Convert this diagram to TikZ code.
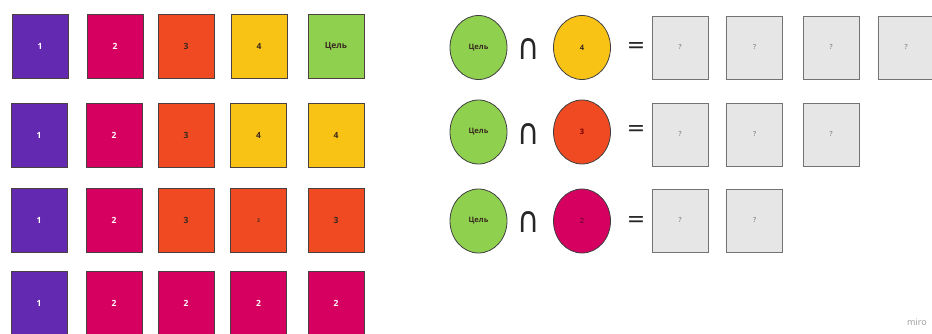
\documentclass[tikz,border=0pt]{standalone}
\usepackage{fontspec}
\setmainfont{Open Sans}
\newfontfamily\symf{DejaVu Sans}
\usetikzlibrary{shapes.geometric}
\definecolor{cpurple}{HTML}{6329B1}
\definecolor{cmag}{HTML}{D60060}
\definecolor{corange}{HTML}{F04A23}
\definecolor{cyellow}{HTML}{F8C315}
\definecolor{cgreen}{HTML}{8FD14F}
\definecolor{cgray}{HTML}{E6E6E6}
\definecolor{cedge}{HTML}{4A4040}
\definecolor{cdark}{HTML}{3A2A20}
\newcommand{\capglyph}{\scalebox{1.05}[1.25]{∩}}
\begin{document}
\begin{tikzpicture}[x=1pt,y=-1pt,
  card/.style={draw=cedge, line width=0.8pt, minimum width=56pt, minimum height=64pt, inner sep=0pt,
    font=\fontsize{8.5}{8.5}\selectfont\bfseries},
  pu/.style={card, fill=cpurple, text=white},
  ma/.style={card, fill=cmag, text=white},
  orr/.style={card, fill=corange, text=cdark},
  ye/.style={card, fill=cyellow, text=cdark},
  gr/.style={card, fill=cgreen, text=cdark},
  qbox/.style={draw=black!55, line width=0.8pt, fill=cgray, minimum width=56pt, minimum height=63pt, inner sep=0pt,
    text=black!60, font=\fontsize{7}{7}\selectfont},
  oval/.style={ellipse, draw=black!75, line width=0.8pt, minimum width=57pt, minimum height=64pt, inner sep=0pt,
    font=\fontsize{7.5}{7.5}\selectfont\bfseries},
  capsym/.style={inner sep=0pt, font=\symf\fontsize{29}{29}\selectfont, text=black!85},
  eqsym/.style={inner sep=0pt, font=\symf\fontsize{22}{22}\selectfont, text=black!85}]
\useasboundingbox (0,0) rectangle (932,334);
% left grid
\node[pu] (a1) at (40,46) {1};
\node[ma] (a2) at (115,46) {2};
\node[orr] (a3) at (186,46) {3};
\node[ye] (a4) at (259,46) {4};
\node[gr] (a5) at (336,46) {Цель};
\node[pu] (b1) at (39,135.5) {1};
\node[ma] (b2) at (114,135.5) {2};
\node[orr] (b3) at (186,135.5) {3};
\node[ye] (b4) at (258.5,135.5) {4};
\node[ye] (b5) at (336,135.5) {4};
\node[pu] (c1) at (39,220.5) {1};
\node[ma] (c2) at (114,220.5) {2};
\node[orr] (c3) at (186,220.5) {3};
\node[orr, font=\fontsize{5}{5}\selectfont\bfseries] (c4) at (258.5,220.5) {3};
\node[orr] (c5) at (336,220.5) {3};
\node[pu] (d1) at (39,303) {1};
\node[ma] (d2) at (114,303) {2};
\node[ma] (d3) at (186,303) {2};
\node[ma] (d4) at (258.5,303) {2};
\node[ma] (d5) at (336,303) {2};
% right: row 1
\node[oval, fill=cgreen, text=cdark] (g1) at (478.5,47.5) {Цель};
\node[capsym] (cap1) at (529,49) {\capglyph};
\node[oval, fill=cyellow, text=cdark] (e1) at (582,47.5) {4};
\node[eqsym] (eq1) at (636,48) {=};
\node[qbox] (q11) at (680,47.5) {?};
\node[qbox] (q12) at (754.5,47.5) {?};
\node[qbox] (q13) at (831,47.5) {?};
\node[qbox] (q14) at (906,47.5) {?};
% row 2
\node[oval, fill=cgreen, text=cdark] (g2) at (478.5,132) {Цель};
\node[capsym] (cap2) at (529,134) {\capglyph};
\node[oval, fill=corange, text=red!45!black] (e2) at (582,132) {3};
\node[eqsym] (eq2) at (636,131) {=};
\node[qbox] (q21) at (680,134.5) {?};
\node[qbox] (q22) at (754.5,134.5) {?};
\node[qbox] (q23) at (831,134.5) {?};
% row 3
\node[oval, fill=cgreen, text=cdark] (g3) at (478.5,221) {Цель};
\node[capsym] (cap3) at (529,222) {\capglyph};
\node[oval, fill=cmag, text=cmag!60!black] (e3) at (582,221) {2};
\node[eqsym] (eq3) at (636,222) {=};
\node[qbox] (q31) at (680,220.5) {?};
\node[qbox] (q32) at (754.5,220.5) {?};
% watermark
\node[text=black!40, font=\fontsize{9}{9}\selectfont, inner sep=0pt] (miro) at (917,322) {miro};
\end{tikzpicture}
\end{document}
